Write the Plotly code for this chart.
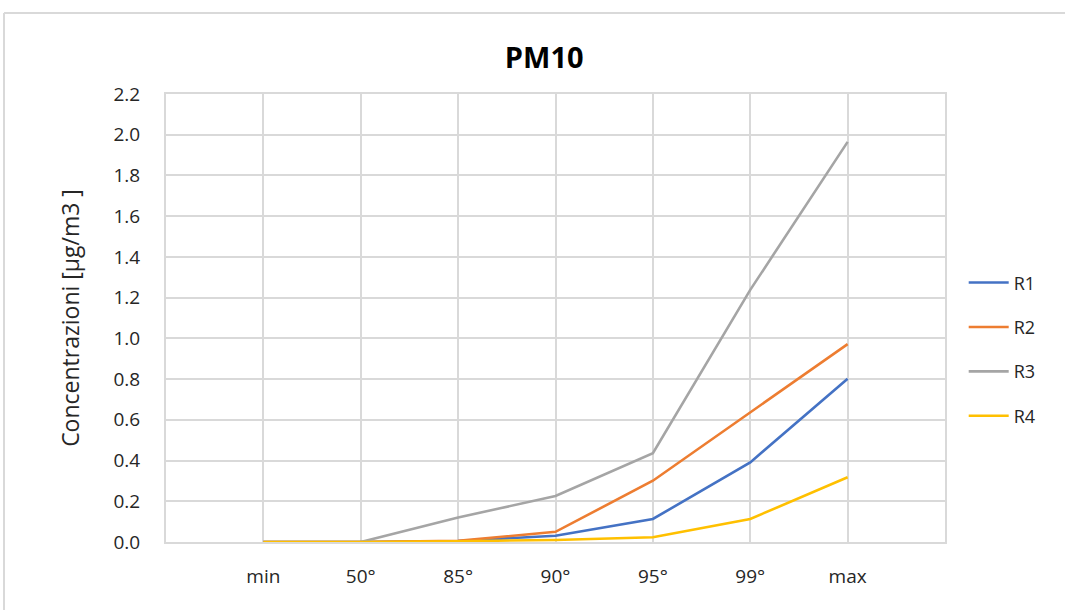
import plotly.graph_objects as go

# Percentile categories on the x axis
categories = ["min", "50°", "85°", "90°", "95°", "99°", "max"]

# PM10 concentrations (µg/m3) for each receptor
r1 = [0.0, 0.0, 0.005, 0.031, 0.113, 0.391, 0.802]
r2 = [0.0, 0.0, 0.006, 0.050, 0.301, 0.635, 0.972]
r3 = [0.0, 0.0, 0.120, 0.226, 0.436, 1.238, 1.965]
r4 = [0.0, 0.0, 0.004, 0.010, 0.023, 0.113, 0.318]

series = [("R1", r1, "#4472C4"), ("R2", r2, "#ED7D31"),
          ("R3", r3, "#A5A5A5"), ("R4", r4, "#FFC000")]

FONT = "'Open Sans', sans-serif"
GRID = "#d9d9d9"
TXT = "#262626"

x_pos = list(range(len(categories)))

fig = go.Figure()
for name, vals, color in series:
    fig.add_trace(go.Scatter(
        x=x_pos, y=vals, mode="lines", name=name, legendgroup=name,
        line=dict(color=color, width=2.6),
    ))

# gridlines at each category plus the empty slots at both ends
tickvals = list(range(-1, len(categories) + 1))
ticktext = [""] + categories + [""]

fig.update_layout(
    width=1065, height=610,
    margin=dict(l=166, r=120, t=94, b=68),
    paper_bgcolor="white", plot_bgcolor="white",
    font=dict(family=FONT, color=TXT, size=19),
    title=dict(text="<b>PM10</b>", x=0.511, xanchor="center", y=0.905, yanchor="middle",
               font=dict(family=FONT, size=29, color="#000000")),
    showlegend=True,
    legend=dict(x=1.024, xanchor="left", y=0.43, yanchor="middle",
                font=dict(family=FONT, size=18, color=TXT),
                tracegroupgap=18, itemwidth=40, bgcolor="rgba(0,0,0,0)"),
    xaxis=dict(range=[-1, len(categories)], tickvals=tickvals, ticktext=ticktext,
               showgrid=True, gridcolor=GRID, gridwidth=2,
               showline=True, linecolor=GRID, linewidth=2, mirror=True,
               zeroline=False, ticks="outside", ticklen=16,
               tickcolor="rgba(0,0,0,0)", tickfont=dict(size=19, color=TXT)),
    yaxis=dict(range=[0, 2.2], tickvals=[i * 0.2 for i in range(12)],
               tickformat=".1f",
               showgrid=True, gridcolor=GRID, gridwidth=2,
               showline=True, linecolor=GRID, linewidth=2, mirror=True,
               zeroline=False, ticks="outside", ticklen=20,
               tickcolor="rgba(0,0,0,0)", tickfont=dict(size=19, color=TXT),
               title=dict(text="Concentrazioni [µg/m3 ]", standoff=27,
                          font=dict(size=23, color=TXT))),
    shapes=[
        # chart frame edges
        dict(type="line", xref="paper", yref="paper",
             x0=(4 - 166) / 779, x1=(4 - 166) / 779, y0=(542 - 13) / 448, y1=-0.3,
             line=dict(color=GRID, width=2)),
        dict(type="line", xref="paper", yref="paper",
             x0=(4 - 166) / 779, x1=1.3, y0=(542 - 13) / 448, y1=(542 - 13) / 448,
             line=dict(color=GRID, width=2)),
    ],
)

fig.write_html("out.html")
